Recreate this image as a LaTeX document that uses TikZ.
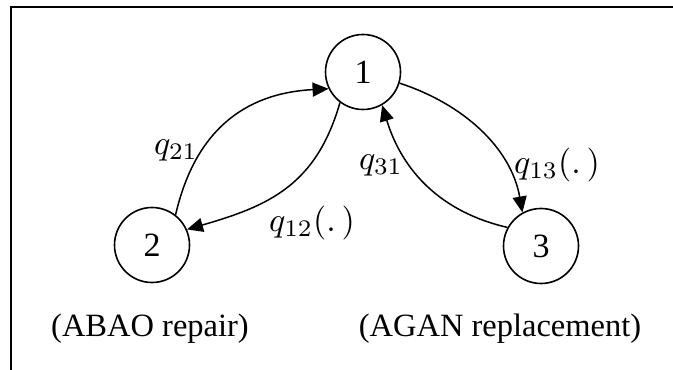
\documentclass[tikz,border=0pt]{standalone}
\usepackage{graphicx}
\usepackage{fontspec}
\setmainfont{Liberation Serif}
\usetikzlibrary{arrows.meta}

\newcommand{\ratelabel}[1]{\scalebox{3.4}{$#1$}}

\tikzset{
  state/.style={circle, draw, line width=1.6pt, minimum size=75pt, inner sep=0pt,
    font=\fontsize{34}{40}\selectfont},
  trans/.style={line width=1.5pt, -{Triangle[length=16pt,width=14pt]}},
  rate/.style={inner sep=0pt},
  caption/.style={inner sep=0pt, anchor=base, font=\fontsize{32.5}{38}\selectfont},
  frame/.style={line width=2pt}
}

\begin{document}
\begin{tikzpicture}[x=1pt, y=1pt]
  \useasboundingbox (0,0) rectangle (673,370);

  % open frame: top and left edges only
  \coordinate (fl) at (11,0);
  \coordinate (ftl) at (11,363);
  \coordinate (ftr) at (673,363);
  \draw[frame] (fl) -- (ftl) -- (ftr);

  % states
  \node[state] (n1) at (363,298) {1};
  \node[state] (n2) at (152,125) {2};
  \node[state] (n3) at (541,124) {3};

  % transitions
  \draw[trans] (n2.52)  to[out=77,  in=183, looseness=1.1]  (n1.206);
  \draw[trans] (n1.233) to[out=254, in=16,  looseness=1.1] (n2.24);
  \draw[trans] (n3.151) to[out=167, in=287] (n1.300);
  \draw[trans] (n1.343) to[out=-18, in=100, looseness=0.95] (n3.119);

  % rate labels
  \node[rate] (l21) at (176,220) {\ratelabel{q_{21}}};
  \node[rate] (l12) at (312,147) {\ratelabel{q_{12}(.\,)}};
  \node[rate] (l31) at (381,205) {\ratelabel{q_{31}}};
  \node[rate] (l13) at (557,205) {\ratelabel{q_{13}(.\,)}};

  % state descriptions
  \node[caption] (c2) at (150,34) {(ABAO repair)};
  \node[caption] (c3) at (500,34) {(AGAN replacement)};
\end{tikzpicture}
\end{document}
